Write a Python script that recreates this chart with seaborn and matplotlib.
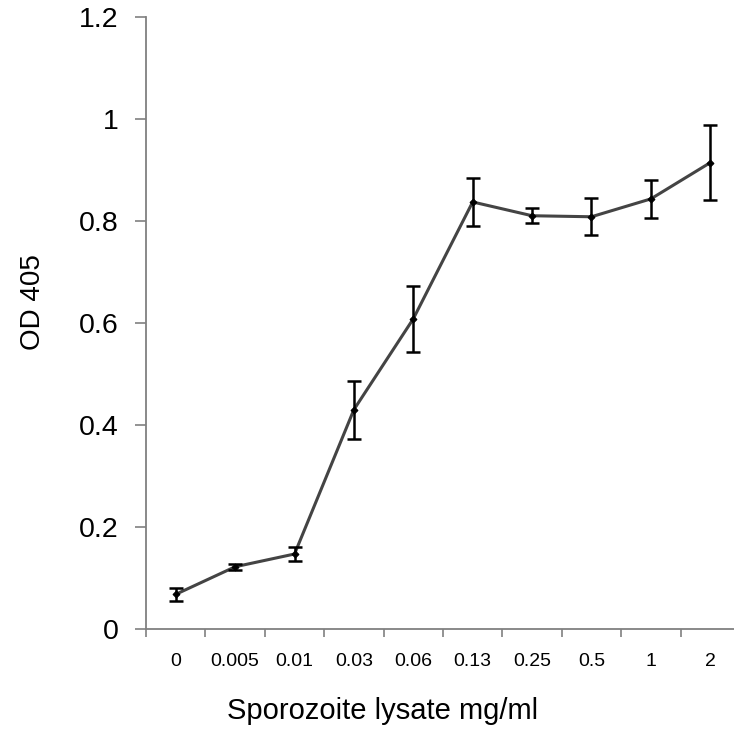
import numpy as np
import pandas as pd
import matplotlib
matplotlib.use('Agg')
import matplotlib.pyplot as plt
import seaborn as sns
from matplotlib.ticker import FixedLocator, NullFormatter

# values
concentrations = ['0', '0.005', '0.01', '0.03', '0.06', '0.13', '0.25', '0.5', '1', '2']
od_mean = [0.068, 0.122, 0.147, 0.430, 0.608, 0.837, 0.810, 0.808, 0.843, 0.914]
od_err = [0.013, 0.006, 0.014, 0.057, 0.065, 0.047, 0.015, 0.036, 0.037, 0.074]
y_ticks = [0, 0.2, 0.4, 0.6, 0.8, 1.0, 1.2]
y_ticklabels = ['0', '0.2', '0.4', '0.6', '0.8', '1', '1.2']

df = pd.DataFrame({'conc': concentrations, 'od': od_mean, 'err': od_err})
df['pos'] = np.arange(len(df))

sns.set_style('white')
plt.rcParams['font.family'] = ['Liberation Sans', 'DejaVu Sans']
plt.rcParams['text.color'] = 'black'
plt.rcParams['axes.labelcolor'] = 'black'
plt.rcParams['xtick.labelcolor'] = 'black'
plt.rcParams['ytick.labelcolor'] = 'black'

fig = plt.figure(figsize=(7.34, 7.35), dpi=100)
ax = fig.add_axes([0.199, 0.1442, 0.805, 0.833])

sns.lineplot(data=df, x='pos', y='od', ax=ax, color='#444444', linewidth=2.2,
             marker='D', markersize=3.5, markerfacecolor='black',
             markeredgecolor='black', sort=False, zorder=2)
ax.errorbar(df['pos'], df['od'], yerr=df['err'], fmt='none', ecolor='black',
            elinewidth=1.8, capsize=5, capthick=1.8, zorder=3)

ax.set_ylim(0, 1.2)
ax.set_xlim(-0.5, 9.45)
ax.set_yticks(y_ticks)
ax.set_yticklabels(y_ticklabels, fontsize=20.5)

# category boundary ticks without labels, labels centred on the categories
ax.xaxis.set_major_locator(FixedLocator(np.arange(-0.5, 10, 1.0)))
ax.xaxis.set_major_formatter(NullFormatter())
ax.xaxis.set_minor_locator(FixedLocator(df['pos']))
ax.set_xticklabels(concentrations, minor=True, fontsize=14)
ax.tick_params(axis='x', which='major', direction='out', length=6, width=1.2,
               color='#808080', bottom=True)
ax.tick_params(axis='x', which='minor', length=0, pad=17, bottom=True,
               labelcolor='black')
ax.tick_params(axis='y', direction='out', length=8, width=1.2, color='#808080',
               left=True, pad=12, labelcolor='black')

for side in ['top', 'right']:
    ax.spines[side].set_visible(False)
for side in ['left', 'bottom']:
    ax.spines[side].set_color('#808080')
    ax.spines[side].set_linewidth(1.3)

# labels sit off-centre in the original, place them explicitly
ax.set_xlabel('Sporozoite lysate mg/ml', fontsize=21, color='black')
ax.xaxis.set_label_coords(0.40, -0.111)
ax.set_ylabel('OD 405', fontsize=20, color='black')
ax.yaxis.set_label_coords(-0.169, 0.534)

fig.savefig('out.png', dpi=100)
